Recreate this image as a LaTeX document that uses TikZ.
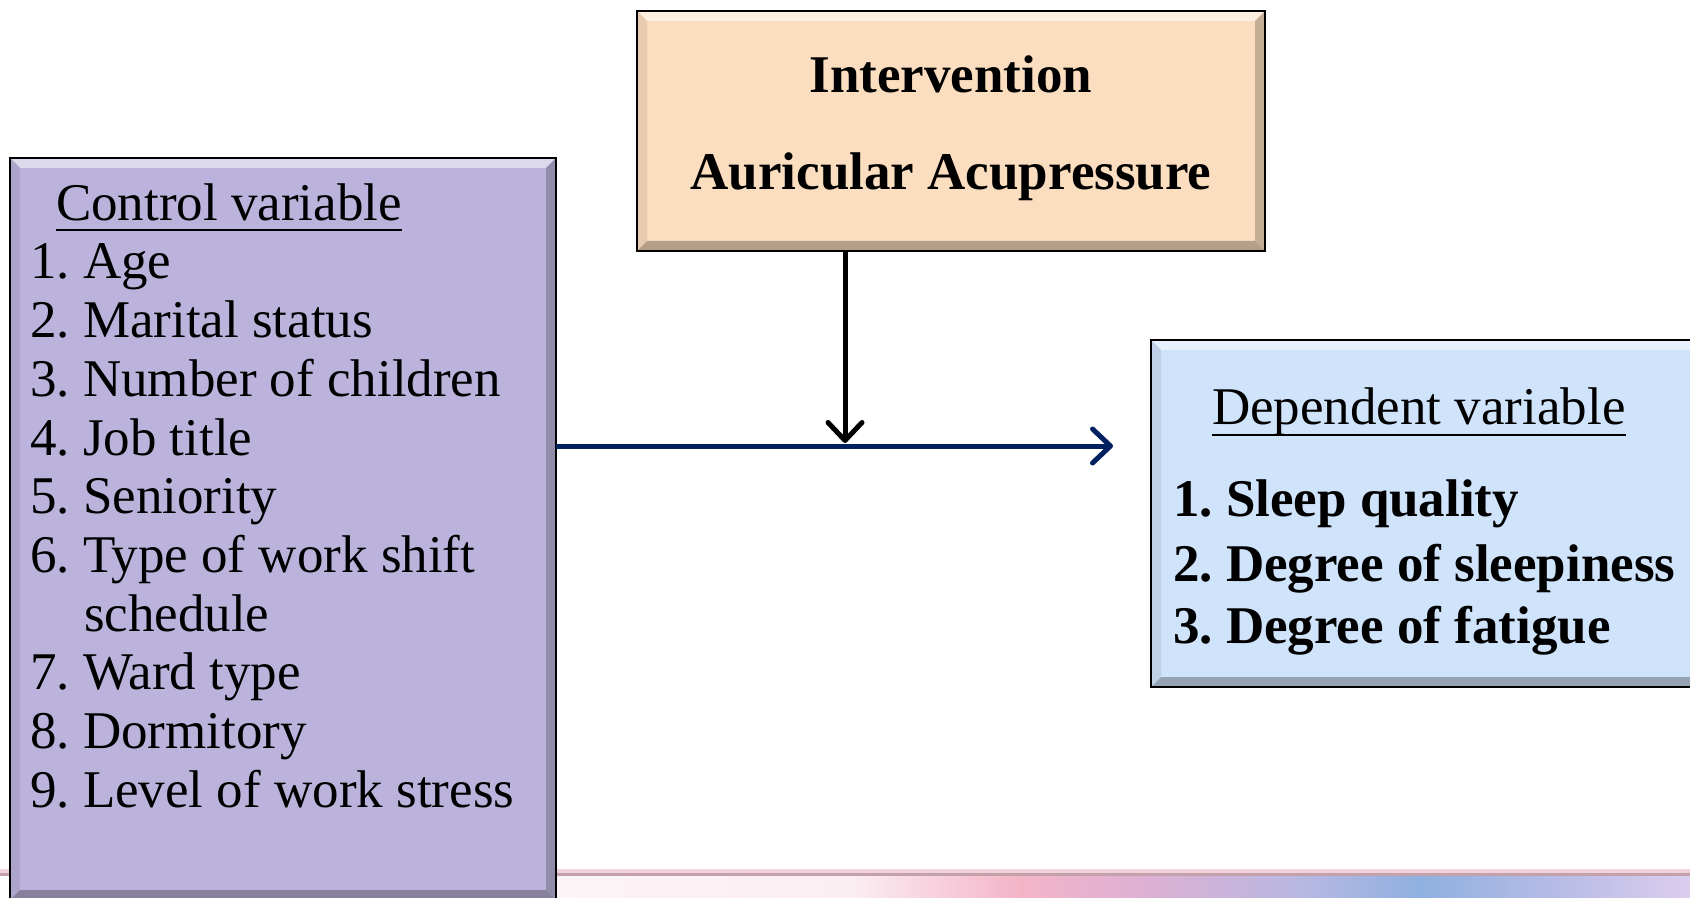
\documentclass[tikz,border=0pt]{standalone}
\usepackage{fontspec}
\setmainfont{Liberation Serif}
\usetikzlibrary{arrows.meta,calc}
\frenchspacing

\definecolor{ctrlfill}{HTML}{BBB3DB}
\definecolor{intfill}{HTML}{FBDDBF}
\definecolor{depfill}{HTML}{CFE3FB}
\definecolor{navyline}{HTML}{002060}
\definecolor{stripA}{HTML}{FBEEF2}
\definecolor{stripB}{HTML}{F4B4C8}
\definecolor{stripC}{HTML}{DCB0D4}
\definecolor{stripD}{HTML}{B8B8E2}
\definecolor{stripE}{HTML}{8FB0E0}
\definecolor{stripF}{HTML}{B8BCE6}
\definecolor{stripG}{HTML}{DCCDEE}
\definecolor{lineA}{HTML}{F0D4DC}
\definecolor{lineB}{HTML}{C4A0AA}

\newcommand\boxbevel[2]{%
  \fill[#2!50!white] (#1.north west) -- (#1.north east) -- ($(#1.north east)+(-5pt,-5pt)$) -- ($(#1.north west)+(5pt,-5pt)$) -- cycle;
  \fill[#2!92!black] (#1.north west) -- ($(#1.north west)+(5pt,-5pt)$) -- ($(#1.south west)+(5pt,5pt)$) -- (#1.south west) -- cycle;
  \fill[#2!78!black] (#1.north east) -- ($(#1.north east)+(-5pt,-5pt)$) -- ($(#1.south east)+(-5pt,5pt)$) -- (#1.south east) -- cycle;
  \fill[#2!72!black] (#1.south west) -- ($(#1.south west)+(5pt,5pt)$) -- ($(#1.south east)+(-5pt,5pt)$) -- (#1.south east) -- cycle;
  \draw[line width=1pt] (#1.north west) rectangle (#1.south east);
}

\tikzset{
  boxnode/.style={rectangle, inner sep=0pt, outer sep=0pt},
  txt/.style={inner sep=0pt, outer sep=0pt, anchor=base west, font=\fontsize{26.5}{30}\selectfont},
  btxt/.style={txt, font=\fontsize{26.5}{30}\selectfont\bfseries},
  ctxt/.style={btxt, anchor=base},
  uline/.style={line width=1.2pt},
  arrowline/.style={line width=2.5pt, -{Straight Barb[length=9pt,width=17pt,round]}}
}

\begin{document}
\begin{tikzpicture}[x=0.5pt,y=-0.5pt]
\useasboundingbox (0,0) rectangle (1690,898);
\clip (0,0) rectangle (1690,898);
\fill[white] (0,0) rectangle (1690,898);

% bottom decorative strip
\shade[left color=white, right color=stripA] (0,876) rectangle (851,898);
\shade[left color=stripA, right color=stripB] (850,876) rectangle (1021,898);
\shade[left color=stripB, right color=stripC] (1020,876) rectangle (1151,898);
\shade[left color=stripC, right color=stripD] (1150,876) rectangle (1301,898);
\shade[left color=stripD, right color=stripE] (1300,876) rectangle (1421,898);
\shade[left color=stripE, right color=stripF] (1420,876) rectangle (1561,898);
\shade[left color=stripF, right color=stripG] (1560,876) rectangle (1690,898);
\fill[lineA] (0,869) rectangle (1690,873);
\fill[lineB] (0,873) rectangle (1690,876);

% boxes
\node[boxnode, fill=ctrlfill, minimum width=273pt, minimum height=371pt] (ctrl) at (283,529) {};
\boxbevel{ctrl}{ctrlfill}
\node[boxnode, fill=intfill, minimum width=314pt, minimum height=120pt] (interv) at (951,131) {};
\boxbevel{interv}{intfill}
\node[boxnode, fill=depfill, minimum width=274.5pt, minimum height=173.5pt] (dep) at (1425.5,513.5) {};
\boxbevel{dep}{depfill}

% intervention text
\node[ctxt] (int1) at (951,93) {Intervention};
\node[ctxt] (int2) at (951,190) {Auricular Acupressure};

% control text
\node[txt] (cvh) at (56,221) {Control variable};
\draw[uline] ([yshift=-4.5pt]cvh.base west) -- ([yshift=-4.5pt]cvh.base east);
\node[txt] (c1) at (30,279) {1. Age};
\node[txt] (c2) at (30,337.7) {2. Marital status};
\node[txt] (c3) at (30,396.4) {3. Number of children};
\node[txt] (c4) at (30,455.1) {4. Job title};
\node[txt] (c5) at (30,513.8) {5. Seniority};
\node[txt] (c6) at (30,572.5) {6. Type of work shift};
\node[txt] (c6b) at (84,631.2) {schedule};
\node[txt] (c7) at (30,689.9) {7. Ward type};
\node[txt] (c8) at (30,748.6) {8. Dormitory};
\node[txt] (c9) at (30,807.3) {9. Level of work stress};

% dependent text
\node[txt] (dvh) at (1212,424) {Dependent variable};
\draw[uline] ([yshift=-5.5pt]dvh.base west) -- ([yshift=-5.5pt]dvh.base east);
\node[btxt] (d1) at (1173,516) {1. Sleep quality};
\node[btxt] (d2) at (1173,581) {2. Degree of sleepiness};
\node[btxt] (d3) at (1173,643) {3. Degree of fatigue};

% connectors
\coordinate (hend) at (1113,446);
\coordinate (vend) at (845,443);
\draw[arrowline, navyline] (ctrl.east |- hend) -- (hend);
\draw[arrowline, black] (interv.south -| vend) -- (vend);
\end{tikzpicture}
\end{document}
